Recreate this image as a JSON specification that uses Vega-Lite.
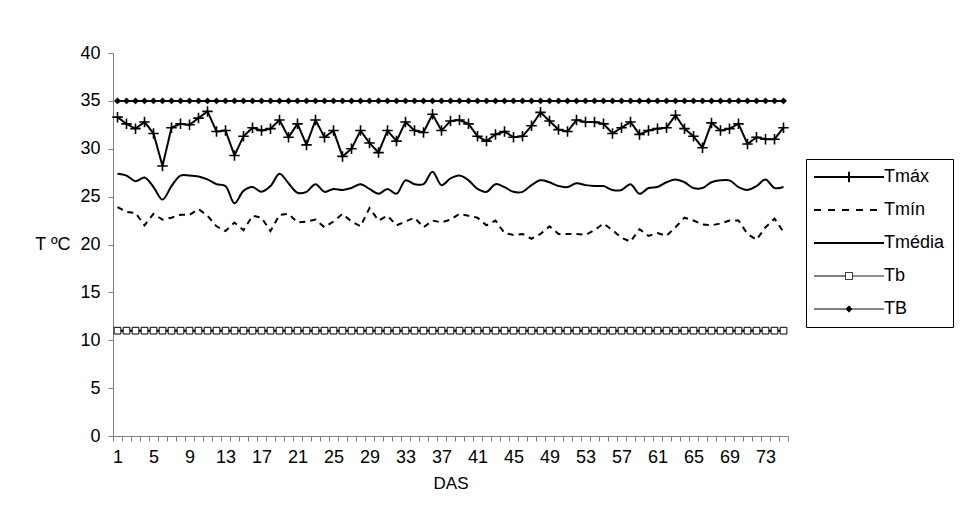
{
  "$schema": "https://vega.github.io/schema/vega-lite/v6.json",
  "width": 675,
  "height": 383,
  "autosize": {"type": "none"},
  "padding": {"left": 113, "top": 53, "right": 176, "bottom": 94},
  "background": "white",
  "config": {
    "font": "Liberation Sans",
    "view": {"stroke": null},
    "axis": {"grid": false, "domainColor": "#808080", "tickColor": "#808080", "labelColor": "black", "titleColor": "black", "labelFont": "Liberation Sans", "titleFont": "Liberation Sans", "titleFontWeight": "normal", "labelFontSize": 18, "titleFontSize": 17, "tickSize": 5}
  },
  "data": {
    "values": [
      {"DAS":1,"Tmáx":33.3,"Tmín":23.9,"Tmédia":27.4,"Tb":11,"TB":35},
      {"DAS":2,"Tmáx":32.6,"Tmín":23.4,"Tmédia":27.2,"Tb":11,"TB":35},
      {"DAS":3,"Tmáx":32.1,"Tmín":23.3,"Tmédia":26.6,"Tb":11,"TB":35},
      {"DAS":4,"Tmáx":32.8,"Tmín":22.0,"Tmédia":27.0,"Tb":11,"TB":35},
      {"DAS":5,"Tmáx":31.6,"Tmín":23.2,"Tmédia":26.0,"Tb":11,"TB":35},
      {"DAS":6,"Tmáx":28.2,"Tmín":22.6,"Tmédia":24.7,"Tb":11,"TB":35},
      {"DAS":7,"Tmáx":32.2,"Tmín":22.8,"Tmédia":26.1,"Tb":11,"TB":35},
      {"DAS":8,"Tmáx":32.6,"Tmín":23.1,"Tmédia":27.2,"Tb":11,"TB":35},
      {"DAS":9,"Tmáx":32.5,"Tmín":23.1,"Tmédia":27.2,"Tb":11,"TB":35},
      {"DAS":10,"Tmáx":33.2,"Tmín":23.7,"Tmédia":27.1,"Tb":11,"TB":35},
      {"DAS":11,"Tmáx":33.9,"Tmín":23.0,"Tmédia":26.8,"Tb":11,"TB":35},
      {"DAS":12,"Tmáx":31.8,"Tmín":21.9,"Tmédia":26.3,"Tb":11,"TB":35},
      {"DAS":13,"Tmáx":31.9,"Tmín":21.4,"Tmédia":26.1,"Tb":11,"TB":35},
      {"DAS":14,"Tmáx":29.3,"Tmín":22.3,"Tmédia":24.3,"Tb":11,"TB":35},
      {"DAS":15,"Tmáx":31.3,"Tmín":21.5,"Tmédia":25.6,"Tb":11,"TB":35},
      {"DAS":16,"Tmáx":32.2,"Tmín":23.0,"Tmédia":26.0,"Tb":11,"TB":35},
      {"DAS":17,"Tmáx":31.9,"Tmín":22.8,"Tmédia":25.5,"Tb":11,"TB":35},
      {"DAS":18,"Tmáx":32.1,"Tmín":21.4,"Tmédia":26.1,"Tb":11,"TB":35},
      {"DAS":19,"Tmáx":33.0,"Tmín":23.1,"Tmédia":27.4,"Tb":11,"TB":35},
      {"DAS":20,"Tmáx":31.2,"Tmín":23.2,"Tmédia":26.4,"Tb":11,"TB":35},
      {"DAS":21,"Tmáx":32.6,"Tmín":22.3,"Tmédia":25.4,"Tb":11,"TB":35},
      {"DAS":22,"Tmáx":30.4,"Tmín":22.4,"Tmédia":25.5,"Tb":11,"TB":35},
      {"DAS":23,"Tmáx":33.0,"Tmín":22.6,"Tmédia":26.3,"Tb":11,"TB":35},
      {"DAS":24,"Tmáx":31.2,"Tmín":21.8,"Tmédia":25.5,"Tb":11,"TB":35},
      {"DAS":25,"Tmáx":31.9,"Tmín":22.4,"Tmédia":25.8,"Tb":11,"TB":35},
      {"DAS":26,"Tmáx":29.2,"Tmín":23.2,"Tmédia":25.7,"Tb":11,"TB":35},
      {"DAS":27,"Tmáx":30.0,"Tmín":22.4,"Tmédia":25.9,"Tb":11,"TB":35},
      {"DAS":28,"Tmáx":31.9,"Tmín":21.9,"Tmédia":26.3,"Tb":11,"TB":35},
      {"DAS":29,"Tmáx":30.6,"Tmín":23.8,"Tmédia":25.8,"Tb":11,"TB":35},
      {"DAS":30,"Tmáx":29.6,"Tmín":22.5,"Tmédia":25.3,"Tb":11,"TB":35},
      {"DAS":31,"Tmáx":31.9,"Tmín":23.0,"Tmédia":25.8,"Tb":11,"TB":35},
      {"DAS":32,"Tmáx":30.8,"Tmín":22.0,"Tmédia":25.3,"Tb":11,"TB":35},
      {"DAS":33,"Tmáx":32.8,"Tmín":22.4,"Tmédia":26.7,"Tb":11,"TB":35},
      {"DAS":34,"Tmáx":31.9,"Tmín":22.8,"Tmédia":26.3,"Tb":11,"TB":35},
      {"DAS":35,"Tmáx":31.7,"Tmín":21.8,"Tmédia":26.3,"Tb":11,"TB":35},
      {"DAS":36,"Tmáx":33.6,"Tmín":22.5,"Tmédia":27.6,"Tb":11,"TB":35},
      {"DAS":37,"Tmáx":31.9,"Tmín":22.3,"Tmédia":26.2,"Tb":11,"TB":35},
      {"DAS":38,"Tmáx":32.9,"Tmín":22.6,"Tmédia":26.9,"Tb":11,"TB":35},
      {"DAS":39,"Tmáx":33.0,"Tmín":23.2,"Tmédia":27.2,"Tb":11,"TB":35},
      {"DAS":40,"Tmáx":32.6,"Tmín":23.0,"Tmédia":26.7,"Tb":11,"TB":35},
      {"DAS":41,"Tmáx":31.3,"Tmín":22.8,"Tmédia":25.8,"Tb":11,"TB":35},
      {"DAS":42,"Tmáx":30.8,"Tmín":22.0,"Tmédia":25.5,"Tb":11,"TB":35},
      {"DAS":43,"Tmáx":31.5,"Tmín":22.5,"Tmédia":26.3,"Tb":11,"TB":35},
      {"DAS":44,"Tmáx":31.8,"Tmín":21.2,"Tmédia":26.0,"Tb":11,"TB":35},
      {"DAS":45,"Tmáx":31.2,"Tmín":21.0,"Tmédia":25.5,"Tb":11,"TB":35},
      {"DAS":46,"Tmáx":31.3,"Tmín":21.1,"Tmédia":25.5,"Tb":11,"TB":35},
      {"DAS":47,"Tmáx":32.4,"Tmín":20.6,"Tmédia":26.2,"Tb":11,"TB":35},
      {"DAS":48,"Tmáx":33.8,"Tmín":21.1,"Tmédia":26.7,"Tb":11,"TB":35},
      {"DAS":49,"Tmáx":32.9,"Tmín":21.9,"Tmédia":26.5,"Tb":11,"TB":35},
      {"DAS":50,"Tmáx":32.0,"Tmín":21.1,"Tmédia":26.1,"Tb":11,"TB":35},
      {"DAS":51,"Tmáx":31.8,"Tmín":21.1,"Tmédia":26.0,"Tb":11,"TB":35},
      {"DAS":52,"Tmáx":33.0,"Tmín":21.1,"Tmédia":26.4,"Tb":11,"TB":35},
      {"DAS":53,"Tmáx":32.8,"Tmín":21.0,"Tmédia":26.2,"Tb":11,"TB":35},
      {"DAS":54,"Tmáx":32.8,"Tmín":21.5,"Tmédia":26.1,"Tb":11,"TB":35},
      {"DAS":55,"Tmáx":32.6,"Tmín":22.2,"Tmédia":26.1,"Tb":11,"TB":35},
      {"DAS":56,"Tmáx":31.6,"Tmín":21.5,"Tmédia":25.7,"Tb":11,"TB":35},
      {"DAS":57,"Tmáx":32.2,"Tmín":20.7,"Tmédia":25.7,"Tb":11,"TB":35},
      {"DAS":58,"Tmáx":32.8,"Tmín":20.3,"Tmédia":26.3,"Tb":11,"TB":35},
      {"DAS":59,"Tmáx":31.5,"Tmín":21.6,"Tmédia":25.3,"Tb":11,"TB":35},
      {"DAS":60,"Tmáx":31.9,"Tmín":20.9,"Tmédia":25.9,"Tb":11,"TB":35},
      {"DAS":61,"Tmáx":32.1,"Tmín":21.2,"Tmédia":26.0,"Tb":11,"TB":35},
      {"DAS":62,"Tmáx":32.2,"Tmín":20.9,"Tmédia":26.5,"Tb":11,"TB":35},
      {"DAS":63,"Tmáx":33.5,"Tmín":21.8,"Tmédia":26.8,"Tb":11,"TB":35},
      {"DAS":64,"Tmáx":32.1,"Tmín":22.8,"Tmédia":26.5,"Tb":11,"TB":35},
      {"DAS":65,"Tmáx":31.3,"Tmín":22.5,"Tmédia":25.9,"Tb":11,"TB":35},
      {"DAS":66,"Tmáx":30.1,"Tmín":22.1,"Tmédia":25.9,"Tb":11,"TB":35},
      {"DAS":67,"Tmáx":32.7,"Tmín":22.0,"Tmédia":26.5,"Tb":11,"TB":35},
      {"DAS":68,"Tmáx":31.9,"Tmín":22.2,"Tmédia":26.7,"Tb":11,"TB":35},
      {"DAS":69,"Tmáx":32.1,"Tmín":22.5,"Tmédia":26.7,"Tb":11,"TB":35},
      {"DAS":70,"Tmáx":32.6,"Tmín":22.5,"Tmédia":26.0,"Tb":11,"TB":35},
      {"DAS":71,"Tmáx":30.5,"Tmín":21.1,"Tmédia":25.7,"Tb":11,"TB":35},
      {"DAS":72,"Tmáx":31.2,"Tmín":20.5,"Tmédia":26.1,"Tb":11,"TB":35},
      {"DAS":73,"Tmáx":31.0,"Tmín":21.8,"Tmédia":26.8,"Tb":11,"TB":35},
      {"DAS":74,"Tmáx":31.0,"Tmín":22.7,"Tmédia":25.9,"Tb":11,"TB":35},
      {"DAS":75,"Tmáx":32.2,"Tmín":21.3,"Tmédia":26.0,"Tb":11,"TB":35}
    ]
  },
  "transform": [
    {"fold": ["Tmáx", "Tmín", "Tmédia", "Tb", "TB"], "as": ["series", "T"]}
  ],
  "encoding": {
    "x": {
      "field": "DAS", "type": "ordinal",
      "scale": {"type": "band", "paddingInner": 0, "paddingOuter": 0},
      "axis": {"title": "DAS", "labelAngle": 0, "tickBand": "extent", "labelPadding": 7, "titlePadding": 9,
        "labelExpr": "(datum.value - 1) % 4 == 0 ? datum.label : ''"}
    },
    "y": {
      "field": "T", "type": "quantitative",
      "scale": {"domain": [0, 40], "nice": false, "zero": true},
      "axis": {"values": [0, 5, 10, 15, 20, 25, 30, 35, 40], "title": "T ºC", "titleAngle": 0, "titleAlign": "right", "titleBaseline": "middle", "titleX": -43, "titleY": 191, "labelPadding": 8, "titleFontSize": 18}
    }
  },
  "layer": [
    {
      "transform": [{"filter": "datum.series !== 'Tmédia'"}],
      "mark": {"type": "line"},
      "encoding": {
        "color": {
          "field": "series", "type": "nominal",
          "scale": {"domain": ["Tmáx", "Tmín", "Tmédia", "Tb", "TB"], "range": ["black", "black", "black", "black", "black"]},
          "legend": {
            "title": null, "orient": "none", "legendX": 693, "legendY": 106,
            "direction": "vertical", "strokeColor": "black", "padding": 8,
            "symbolSize": 4900, "clipHeight": 20, "rowPadding": 13,
            "symbolOffset": 26, "labelOffset": 26,
            "labelFontSize": 18, "labelFont": "Liberation Sans", "labelColor": "black",
            "encode": {
              "symbols": {
                "update": {
                  "size": {"value": 4900},
                  "shape": {"signal": "datum.value === 'Tmáx' ? 'M-1,0H1M0,-0.15V0.15' : datum.value === 'Tb' ? 'M-1,0H-0.1M0.1,0H1M-0.1,-0.1H0.1V0.1H-0.1Z' : datum.value === 'TB' ? 'M-1,0H-0.09M0.09,0H1M-0.09,0L0,-0.09L0.09,0L0,0.09Z' : 'M-1,0H1'"},
                  "stroke": {"signal": "datum.value === 'Tb' || datum.value === 'TB' ? '#444' : 'black'"},
                  "strokeWidth": {"signal": "datum.value === 'Tb' || datum.value === 'TB' ? 1 : 2"},
                  "strokeDash": {"signal": "datum.value === 'Tmín' ? [7, 7] : [1, 0]"},
                  "fill": {"signal": "datum.value === 'TB' ? 'black' : 'transparent'"},
                  "opacity": {"value": 1}
                }
              }
            }
          }
        },
        "strokeDash": {
          "field": "series", "type": "nominal",
          "scale": {"domain": ["Tmáx", "Tmín", "Tb", "TB"], "range": [[1, 0], [6, 5], [1, 0], [1, 0]]},
          "legend": null
        },
        "strokeWidth": {
          "field": "series", "type": "nominal",
          "scale": {"domain": ["Tmáx", "Tmín", "Tb", "TB"], "range": [2, 2, 1, 1]},
          "legend": null
        }
      }
    },
    {
      "transform": [{"filter": "datum.series === 'Tmédia'"}],
      "mark": {"type": "line", "interpolate": "catmull-rom", "color": "black", "strokeWidth": 2},
      "encoding": {}
    },
    {
      "transform": [{"filter": "datum.series === 'Tmáx'"}],
      "mark": {"type": "point", "shape": "M-1,0H1M0,-1V1", "filled": false, "stroke": "black", "strokeWidth": 1.6, "size": 110, "opacity": 1},
      "encoding": {}
    },
    {
      "transform": [{"filter": "datum.series === 'Tb'"}],
      "mark": {"type": "point", "shape": "square", "filled": true, "fill": "white", "stroke": "black", "strokeWidth": 1, "size": 45, "opacity": 1},
      "encoding": {}
    },
    {
      "transform": [{"filter": "datum.series === 'TB'"}],
      "mark": {"type": "point", "shape": "diamond", "filled": true, "fill": "black", "stroke": "black", "strokeWidth": 0.5, "size": 40, "opacity": 1},
      "encoding": {}
    }
  ]
}
